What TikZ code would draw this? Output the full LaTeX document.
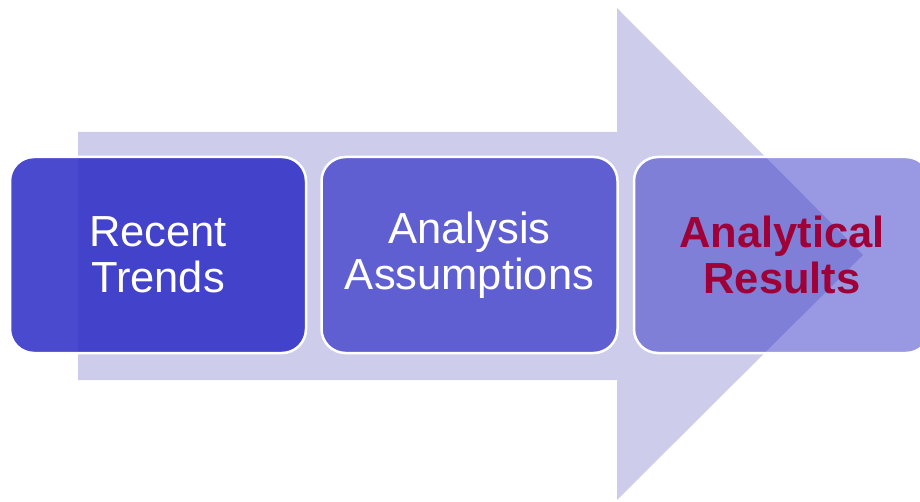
\documentclass[tikz,border=0pt]{standalone}
\usepackage{fontspec}
\setmainfont{Liberation Sans}
\usetikzlibrary{positioning}
\definecolor{arrowfill}{RGB}{205,205,235}
\definecolor{boxfill}{RGB}{42,42,197}
\definecolor{resultred}{RGB}{160,0,56}
\tikzset{
  stagebox/.style={draw=white, line width=2.5pt, fill=boxfill, rounded corners=24pt,
    minimum width=296pt, minimum height=196pt, inner sep=0pt, align=center,
    text=white, font=\fontsize{43.5}{46}\selectfont},
}
\begin{document}
\begin{tikzpicture}[x=1pt, y=-1pt]
    \useasboundingbox (0,0) rectangle (920,502);
    \clip (0,0) rectangle (920,502);

    % Arrow
    \fill[arrowfill] (78,132) -- (617,132) -- (617,8) -- (863,255) -- (617,500) -- (617,380) -- (78,380) -- cycle;

    % Stages
    \node[stagebox, fill opacity=0.85, text opacity=1] (trends) at (158,255) {Recent\\Trends};
    \node[stagebox, fill opacity=0.67, text opacity=1, right=13pt of trends] (assume) {Analysis\\Assumptions};
    \node[stagebox, fill opacity=0.48, text opacity=1, right=14pt of assume, text=resultred,
      font=\fontsize{43.5}{46}\selectfont\bfseries] (results) {Analytical\\Results};

\end{tikzpicture}
\end{document}
